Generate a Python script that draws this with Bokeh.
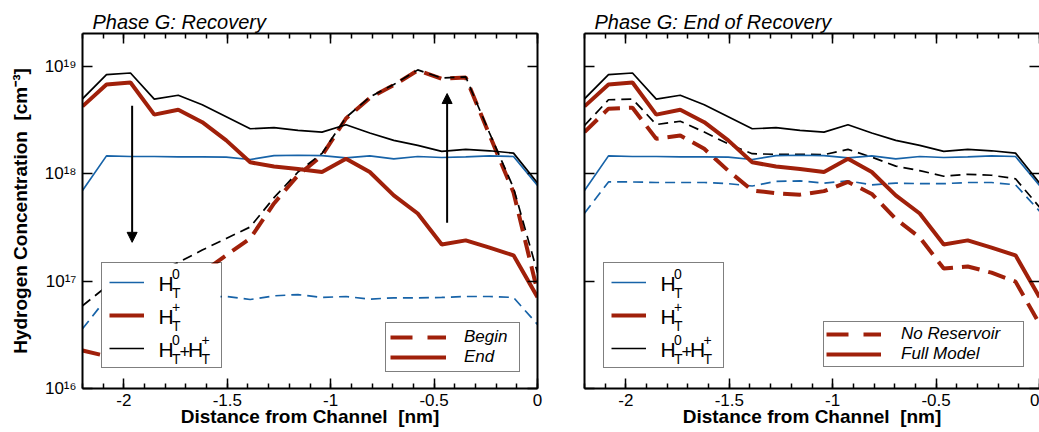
import math
from bokeh.plotting import figure
from bokeh.core.properties import value
from bokeh.models import (LinearAxis, LogAxis, FixedTicker, Range1d, Title,
                          Legend, LegendItem, Arrow, NormalHead, CustomJSTickFormatter)
from bokeh.layouts import row
from bokeh.embed import file_html
from bokeh.resources import INLINE

# ---------------- data ----------------
x_nm = [-2.2, -2.084, -1.968, -1.853, -1.737, -1.621, -1.505, -1.389, -1.274, -1.158,
        -1.042, -0.926, -0.811, -0.695, -0.579, -0.463, -0.347, -0.232, -0.116, 0.0]

# Full model / end of recovery
h0_full = [7.0e17, 1.47e18, 1.45e18, 1.45e18, 1.44e18, 1.44e18, 1.43e18, 1.36e18, 1.48e18, 1.49e18,
           1.48e18, 1.41e18, 1.47e18, 1.38e18, 1.45e18, 1.42e18, 1.44e18, 1.47e18, 1.45e18, 7.8e17]
hp_full = [4.25e18, 6.8e18, 7.1e18, 3.56e18, 3.96e18, 3.03e18, 2.05e18, 1.28e18, 1.17e18, 1.11e18,
           1.04e18, 1.38e18, 1.04e18, 6.3e17, 4.27e17, 2.2e17, 2.4e17, 2.05e17, 1.74e17, 7.1e16]
sum_full = [5.0e18, 8.4e18, 8.7e18, 4.97e18, 5.4e18, 4.4e18, 3.4e18, 2.63e18, 2.69e18, 2.54e18,
            2.45e18, 2.87e18, 2.4e18, 2.05e18, 1.84e18, 1.62e18, 1.69e18, 1.64e18, 1.56e18, 8.2e17]

# Begin of recovery
h0_begin = [3.6e16, 6.9e16, 7.0e16, 7.0e16, 7.0e16, 7.1e16, 7.2e16, 6.75e16, 7.3e16, 7.5e16,
            7.05e16, 7.2e16, 6.8e16, 7.0e16, 7.0e16, 7.05e16, 7.2e16, 7.2e16, 7.05e16, 3.95e16]
hp_begin = [2.26e16, 2.0e16, 3.0e16, 4.8e16, 7.9e16, 1.2e17, 1.74e17, 2.5e17, 5.3e17, 9.7e17,
            1.48e18, 3.28e18, 5.1e18, 6.7e18, 9.2e18, 7.7e18, 7.9e18, 2.3e18, 6.7e17, 8.0e16]
sum_begin = [5.9e16, 8.9e16, 1.0e17, 1.18e17, 1.49e17, 1.95e17, 2.5e17, 3.2e17, 6.0e17, 1.04e18,
             1.55e18, 3.35e18, 5.2e18, 6.8e18, 9.3e18, 7.8e18, 8.0e18, 2.4e18, 7.4e17, 1.2e17]

# No reservoir model, end of recovery
h0_nores = [4.3e17, 8.4e17, 8.4e17, 8.3e17, 8.3e17, 8.3e17, 8.1e17, 7.7e17, 8.5e17, 8.6e17,
            8.2e17, 8.6e17, 7.9e17, 8.2e17, 8.1e17, 8.1e17, 8.3e17, 8.3e17, 7.9e17, 4.5e17]
hp_nores = [2.45e18, 4.05e18, 4.13e18, 2.12e18, 2.28e18, 1.71e18, 1.07e18, 7.0e17, 6.6e17, 6.4e17,
            6.9e17, 8.4e17, 6.5e17, 3.8e17, 2.55e17, 1.31e17, 1.37e17, 1.2e17, 9.9e16, 4.0e16]
sum_nores = [2.82e18, 4.9e18, 4.97e18, 2.88e18, 3.09e18, 2.45e18, 1.9e18, 1.54e18, 1.52e18, 1.52e18,
             1.51e18, 1.69e18, 1.43e18, 1.18e18, 1.07e18, 9.5e17, 9.9e17, 9.7e17, 9.0e17, 4.9e17]

# arrows (left panel): x, from, to
arrow_x = [-1.96, -0.437]
arrow_from = [4.3e18, 3.5e17]
arrow_to = [2.3e17, 5.6e18]

# ticks
x_major = [-2.0, -1.5, -1.0, -0.5, 0.0]
x_major_labels = ["-2", "-1.5", "-1", "-0.5", "0"]
x_minor = [-2.2, -2.1, -2.0, -1.9, -1.8, -1.7, -1.6, -1.5, -1.4, -1.3, -1.2, -1.1, -1.0,
           -0.9, -0.8, -0.7, -0.6, -0.5, -0.4, -0.3, -0.2, -0.1, 0.0]
y_ticks = [1e16, 1e17, 1e18, 1e19]
y_tick_labels = ["10\u00b9\u2076", "10\u00b9\u2077", "10\u00b9\u2078", "10\u00b9\u2079"]

titles = ["Phase G: Recovery", "Phase G: End of Recovery"]
xlabel = "Distance from Channel\u00a0 [nm]"
ylabel = "Hydrogen Concentration\u00a0 [cm\u207b\u00b3]"
legend_left_labels = ["Begin", "End"]
legend_right_labels = ["No Reservoir", "Full Model"]

FONT = "Liberation Sans"
RED = "#a0200a"
BLUE = "#1763a8"
X0, X1 = -2.2, 0.0
Y0, Y1 = 1e16, 2.03e19
FW, FH = 455, 355

BLANK = CustomJSTickFormatter(code="return ''")


def fx(px):
    """frame pixel (from left) -> data x"""
    return X0 + (X1 - X0) * px / FW


def fy(py):
    """frame pixel (from bottom) -> data y (log axis)"""
    l0, l1 = math.log10(Y0), math.log10(Y1)
    return 10 ** (l0 + (l1 - l0) * py / FH)


def make_fig(width, bl, br, title, show_y_labels, show_right_line=True):
    p = figure(width=width, height=432, x_range=Range1d(X0, X1),
               y_range=Range1d(Y0, Y1), y_axis_type="log",
               min_border_left=bl, min_border_right=br, min_border_top=33,
               min_border_bottom=44, toolbar_location=None, output_backend="svg")
    p.title = Title(text=title, align="left", offset=10, text_font=FONT,
                    text_font_size="20px", text_font_style="italic", text_color="black",
                    standoff=2)
    p.xgrid.visible = False
    p.ygrid.visible = False
    p.outline_line_color = None
    p.background_fill_color = "white"
    p.border_fill_color = "white"
    bottom = p.below[0]
    left = p.left[0]
    top = LinearAxis()
    right = LogAxis()
    p.add_layout(top, "above")
    p.add_layout(right, "right")
    for ax in (bottom, top):
        ax.ticker = FixedTicker(ticks=x_major, minor_ticks=x_minor)
    for ax in (left, right):
        ax.ticker = FixedTicker(ticks=y_ticks, minor_ticks=[])
    for ax in (bottom, top, left, right):
        ax.axis_line_width = 2
        ax.axis_line_color = "black"
        ax.major_tick_in = 10
        ax.major_tick_out = 0
        ax.minor_tick_in = 5
        ax.minor_tick_out = 0
        ax.major_tick_line_width = 1.5
        ax.minor_tick_line_width = 1.5
        ax.major_tick_line_color = "black"
        ax.minor_tick_line_color = "black"
        ax.major_label_standoff = 0
        ax.major_label_text_font = FONT
        ax.major_label_text_color = "black"
    for ax in (top, right):
        ax.formatter = BLANK
        ax.major_label_text_font_size = "1px"
    if show_y_labels:
        left.major_label_overrides = {t: s for t, s in zip(y_ticks, y_tick_labels)}
        left.major_label_text_font_size = "17px"
        left.major_label_standoff = 6
        left.axis_label = ylabel
        left.axis_label_text_font = FONT
        left.axis_label_text_font_size = "19px"
        left.axis_label_text_font_style = "bold"
        left.axis_label_text_color = "black"
        left.axis_label_standoff = 11
    else:
        left.formatter = BLANK
        left.major_label_text_font_size = "1px"
    if not show_right_line:
        right.axis_line_color = None
    bottom.major_label_text_font_size = "17px"
    bottom.major_label_standoff = 5
    bottom.major_label_overrides = {t: s for t, s in zip(x_major, x_major_labels)}
    bottom.axis_label = xlabel
    bottom.axis_label_text_font = FONT
    bottom.axis_label_text_font_size = "19px"
    bottom.axis_label_text_font_style = "bold"
    bottom.axis_label_text_color = "black"
    bottom.axis_label_standoff = -3
    return p


def txt(p, xs, ys, ts, size):
    p.text(x=xs, y=ys, text=ts, text_font=value(FONT), text_font_size=value(f"{size}px"),
           text_align=value("left"), text_baseline=value("middle"), text_color="black")


def species_legend(p, renderers, lx, ly):
    # white box under the legend (drawn above the curves, below the texts)
    p.quad(left=[fx(lx)], right=[fx(lx + 119)], bottom=[fy(ly)], top=[fy(ly + 105)],
           fill_color="white", line_color=None)
    leg = Legend(items=[LegendItem(label=" ", renderers=[r]) for r in renderers],
                 location=(lx, ly), orientation="vertical", padding=7, spacing=9, margin=0,
                 glyph_width=35, glyph_height=24, label_height=24, label_width=55,
                 label_standoff=15, label_text_font_size="10px",
                 border_line_color="black", border_line_width=1.5,
                 background_fill_alpha=0.0)
    p.add_layout(leg)
    h_x, h_y, h_t = [], [], []
    s_x, s_y, s_t = [], [], []
    p_x, p_y, p_t = [], [], []
    hx = lx + 57
    rows = [ly + 85 - 33 * k for k in range(3)]
    specs = [[("T", "0")], [("T", "+")], [("T", "0"), ("T", "+")]]
    for c, spec in zip(rows, specs):
        x = hx
        for i, (sb, sp) in enumerate(spec):
            if i > 0:
                p_x.append(fx(x)); p_y.append(fy(c - 2)); p_t.append("+")
                x += 8.5
            h_x.append(fx(x)); h_y.append(fy(c + 0.5)); h_t.append("H")
            s_x.append(fx(x + 13.5)); s_y.append(fy(c - 9.5)); s_t.append(sb)
            s_x.append(fx(x + 13.5)); s_y.append(fy(c + 10)); s_t.append(sp)
            x += 21
    txt(p, h_x, h_y, h_t, 21)
    txt(p, s_x, s_y, s_t, 14)
    txt(p, p_x, p_y, p_t, 18)


def case_legend(p, r_dash, r_solid, labels, lx, ly, pad, spc, gw, gh, stand, lw):
    leg = Legend(items=[LegendItem(label=labels[0], renderers=[r_dash]),
                        LegendItem(label=labels[1], renderers=[r_solid])],
                 location=(lx, ly), orientation="vertical", padding=pad, spacing=spc, margin=0,
                 glyph_width=gw, glyph_height=gh, label_height=gh, label_width=lw,
                 label_standoff=stand, label_text_font=FONT, label_text_font_size="17px",
                 label_text_font_style="italic", label_text_color="black",
                 border_line_color="black", border_line_width=1.5,
                 background_fill_color="white", background_fill_alpha=1.0)
    p.add_layout(leg)


# ---------------- left panel ----------------
p1 = make_fig(560, 82, 23, titles[0], True)
p1.line(x_nm, h0_begin, color=BLUE, line_width=1.7, line_dash="10 6")
p1.line(x_nm, hp_begin, color=RED, line_width=4, line_dash="18 9")
p1.line(x_nm, sum_begin, color="black", line_width=1.7, line_dash="10 6")
rb1 = p1.line(x_nm, h0_full, color=BLUE, line_width=1.7)
rr1 = p1.line(x_nm, hp_full, color=RED, line_width=4)
rk1 = p1.line(x_nm, sum_full, color="black", line_width=1.7)
ld1 = p1.line([-3.0], [1e10], color=RED, line_width=4, line_dash="22 15")
ls1 = p1.line([-3.0], [1e10], color=RED, line_width=4)

for xa, y0, y1 in zip(arrow_x, arrow_from, arrow_to):
    p1.add_layout(Arrow(end=NormalHead(size=10, fill_color="black", line_color="black", line_width=1),
                        x_start=xa, y_start=y0, x_end=xa, y_end=y1,
                        line_width=2, line_color="black"))

species_legend(p1, [rb1, rr1, rk1], 19, 20)
case_legend(p1, ld1, ls1, legend_left_labels, 303, 16, 4, 0, 56, 18, 18, 51)

# ---------------- right panel ----------------
p2 = make_fig(479, 24, 0, titles[1], False, show_right_line=False)
p2.line(x_nm, h0_nores, color=BLUE, line_width=1.7, line_dash="10 6")
p2.line(x_nm, hp_nores, color=RED, line_width=4, line_dash="18 9")
p2.line(x_nm, sum_nores, color="black", line_width=1.7, line_dash="10 6")
rb2 = p2.line(x_nm, h0_full, color=BLUE, line_width=1.7)
rr2 = p2.line(x_nm, hp_full, color=RED, line_width=4)
rk2 = p2.line(x_nm, sum_full, color="black", line_width=1.7)
ld2 = p2.line([-3.0], [1e10], color=RED, line_width=4, line_dash="22 15")
ls2 = p2.line([-3.0], [1e10], color=RED, line_width=4)

species_legend(p2, [rb2, rr2, rk2], 19, 20)
case_legend(p2, ld2, ls2, legend_right_labels, 239, 21, 2, 0, 55, 18, 20, 120)

layout = row(p1, p2)
open("out.html", "w").write(file_html(layout, INLINE))
